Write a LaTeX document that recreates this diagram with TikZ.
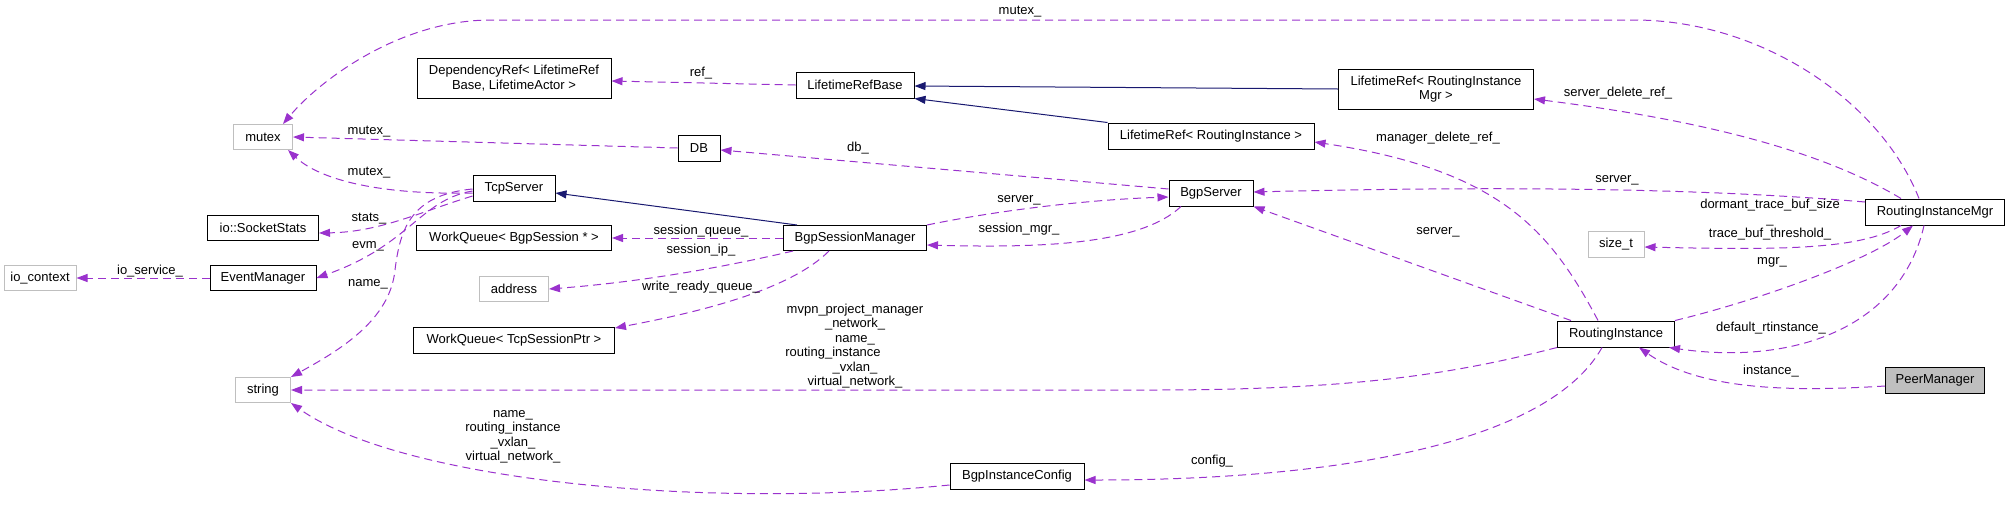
\documentclass[tikz,border=0pt]{standalone}
\usepackage{fontspec}
\setmainfont{Liberation Sans}
\usetikzlibrary{arrows.meta,calc}
\definecolor{edgepurple}{HTML}{9A32CD}
\definecolor{inhblue}{HTML}{191970}
\definecolor{extgray}{HTML}{BFBFBF}
\begin{document}
\begin{tikzpicture}[x=1pt,y=-1pt,
  every node/.style={font=\fontsize{13}{14.5}\selectfont},
  cls/.style={draw=black,line width=1pt,inner sep=0pt,align=center,fill=white},
  ext/.style={draw=extgray,line width=1pt,inner sep=0pt,align=center,fill=white},
  dep/.style={draw=edgepurple,line width=1pt,dash pattern=on 8pt off 5pt,-{Triangle[length=11pt,width=8pt]}},
  inh/.style={draw=inhblue,line width=1pt,-{Triangle[length=11pt,width=8pt]}},
  lbl/.style={inner sep=0pt,align=center}]
\useasboundingbox (0,0) rectangle (2009,504);

% classes
\node[ext,minimum width=59pt,minimum height=25pt] (mutex) at (263,137) {mutex};
\node[cls,minimum width=194pt,minimum height=40pt] (depref) at (514,78) {DependencyRef< LifetimeRef\\Base, LifetimeActor >};
\node[cls,minimum width=82pt,minimum height=26pt] (tcp) at (514,188) {TcpServer};
\node[cls,minimum width=111pt,minimum height=25pt] (sockstats) at (263,228) {io::SocketStats};
\node[cls,minimum width=195pt,minimum height=25pt] (wqbgp) at (514,238) {WorkQueue< BgpSession * >};
\node[cls,minimum width=42pt,minimum height=26pt] (db) at (699,148) {DB};
\node[ext,minimum width=72pt,minimum height=25pt] (ioctx) at (40,278) {io\_context};
\node[cls,minimum width=106pt,minimum height=25pt] (evm) at (263,278) {EventManager};
\node[ext,minimum width=69pt,minimum height=25pt] (address) at (514,289) {address};
\node[cls,minimum width=201pt,minimum height=26pt] (wqtcp) at (514,340) {WorkQueue< TcpSessionPtr >};
\node[ext,minimum width=55pt,minimum height=25pt] (string) at (263,390) {string};
\node[cls,minimum width=118pt,minimum height=26pt] (lrb) at (855,85) {LifetimeRefBase};
\node[cls,minimum width=206pt,minimum height=26pt] (lrri) at (1211,136) {LifetimeRef< RoutingInstance >};
\node[cls,minimum width=84pt,minimum height=26pt] (bgps) at (1211,193) {BgpServer};
\node[cls,minimum width=143pt,minimum height=25pt] (bsm) at (855,238) {BgpSessionManager};
\node[cls,minimum width=134pt,minimum height=26pt] (bic) at (1017,476) {BgpInstanceConfig};
\node[cls,minimum width=195pt,minimum height=40pt] (lrrim) at (1436,89) {LifetimeRef< RoutingInstance\\Mgr >};
\node[cls,minimum width=139pt,minimum height=26pt] (rim) at (1935,212) {RoutingInstanceMgr};
\node[ext,minimum width=56pt,minimum height=26pt] (sizet) at (1616,244) {size\_t};
\node[cls,minimum width=117pt,minimum height=26pt] (ri) at (1616,334) {RoutingInstance};
\node[cls,fill=extgray,minimum width=99pt,minimum height=26pt] (peer) at (1935,380) {PeerManager};

% inheritance
\draw[inh] ($(bsm.north)+(-58,0)$) -- ($(tcp.east)+(0,5)$);
\draw[inh] (lrri.north west) -- (lrb.south east);
\draw[inh] (lrrim.west) -- ($(lrb.east)+(0,1)$);

% usage
\draw[dep] ($(rim.north)+(-16,0)$) .. controls (1880,100) and (1760,20) .. (1634,20) -- (491,20) .. controls (400,20) and (320,80) .. ($(mutex.north)+(20,0)$);
\draw[dep] (lrb.west) -- ($(depref.east)+(0,3)$);
\draw[dep] (db.west) -- (mutex.east);
\draw[dep] ($(tcp.west)+(0,5)$) .. controls (380,195) and (320,180) .. ($(mutex.south)+(25,0)$);
\draw[dep] ($(tcp.west)+(0,8)$) .. controls (420,212) and (380,232) .. ($(sockstats.east)+(0,5)$);
\draw[dep] ($(tcp.west)+(0,3)$) .. controls (420,200) and (410,245) .. (evm.east);
\draw[dep] ($(tcp.west)+(0,1)$) .. controls (410,195) and (400,230) .. (395,270) .. controls (390,320) and (340,350) .. (string.north east);
\draw[dep] (evm.west) -- (ioctx.east);
\draw[dep] (bsm.west) -- (wqbgp.east);
\draw[dep] ($(bsm.south west)+(10,0)$) .. controls (720,268) and (640,282) .. (address.east);
\draw[dep] ($(bsm.south)+(-26,0)$) .. controls (790,290) and (700,312) .. ($(wqtcp.east)+(0,-12)$);
\draw[dep] ($(bgps.west)+(0,-4)$) -- ($(db.east)+(0,2)$);
\draw[dep] (bsm.north east) .. controls (990,212) and (1080,200) .. ($(bgps.west)+(0,4)$);
\draw[dep] ($(bgps.south)+(-30,0)$) .. controls (1140,245) and (1040,248) .. ($(bsm.east)+(0,7)$);
\draw[dep] ($(rim.north)+(-34,0)$) .. controls (1820,150) and (1700,120) .. ($(lrrim.east)+(0,10)$);
\draw[dep] ($(rim.west)+(0,-10)$) .. controls (1700,188) and (1500,186) .. ($(bgps.east)+(0,-1)$);
\draw[dep] ($(ri.north)+(-18,0)$) .. controls (1550,230) and (1500,170) .. ($(lrri.east)+(0,6)$);
\draw[dep] ($(ri.north west)+(14,0)$) -- (bgps.south east);
\draw[dep] ($(rim.south)+(-34,0)$) .. controls (1860,250) and (1780,250) .. ($(sizet.east)+(0,3)$);
\draw[dep] (ri.north east) .. controls (1760,300) and (1870,260) .. ($(rim.south)+(-22,0)$);
\draw[dep] ($(rim.south)+(-11,0)$) .. controls (1900,330) and (1790,365) .. ($(ri.south east)+(-6,0)$);
\draw[dep] ($(peer.west)+(0,6)$) .. controls (1790,392) and (1700,390) .. ($(ri.south)+(23,0)$);
\draw[dep] (ri.south west) .. controls (1450,375) and (1350,390) .. (1150,390) -- (string.east);
\draw[dep] ($(ri.south)+(-14,0)$) .. controls (1550,440) and (1350,480) .. ($(bic.east)+(0,4)$);
\draw[dep] ($(bic.west)+(0,9)$) .. controls (700,510) and (400,480) .. (string.south east);

% labels
\node[lbl] (l1) at (1020,12) {mutex\_};
\node[lbl] (l2) at (701,73) {ref\_};
\node[lbl] (l3) at (369,132) {mutex\_};
\node[lbl] (l4) at (369,173) {mutex\_};
\node[lbl] (l5) at (369,219) {stats\_};
\node[lbl] (l6) at (368,246) {evm\_};
\node[lbl] (l7) at (368,284) {name\_};
\node[lbl] (l8) at (150,271) {io\_service\_};
\node[lbl] (l9) at (701,231) {session\_queue\_};
\node[lbl] (l10) at (701,250) {session\_ip\_};
\node[lbl] (l11) at (701,287) {write\_ready\_queue\_};
\node[lbl] (l12) at (858,148) {db\_};
\node[lbl] (l13) at (1019,200) {server\_};
\node[lbl] (l14) at (1019,229) {session\_mgr\_};
\node[lbl] (l15) at (1618,93) {server\_delete\_ref\_};
\node[lbl] (l16) at (1438,138) {manager\_delete\_ref\_};
\node[lbl] (l17) at (1617,180) {server\_};
\node[lbl] (l18) at (1770,220) {dormant\_trace\_buf\_size\\\_\\trace\_buf\_threshold\_};
\node[lbl] (l19) at (1438,232) {server\_};
\node[lbl] (l20) at (1772,262) {mgr\_};
\node[lbl] (l21) at (1771,328) {default\_rtinstance\_};
\node[lbl] (l22) at (1771,371) {instance\_};
\node[lbl] (l23) at (1212,461) {config\_};
\node[lbl] (l24) at (855,346) {mvpn\_project\_manager\\\_network\_\\name\_\\routing\_instance\rule{44pt}{0pt}\\\_vxlan\_\\virtual\_network\_};
\node[lbl] (l25) at (513,437) {name\_\\routing\_instance\\\_vxlan\_\\virtual\_network\_};
\end{tikzpicture}
\end{document}
